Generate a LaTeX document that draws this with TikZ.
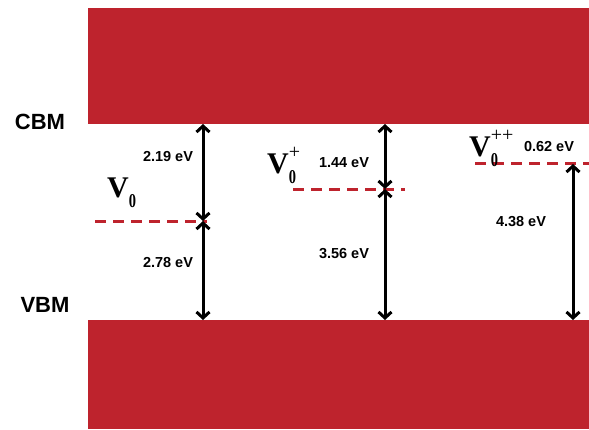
\documentclass[tikz,border=0pt]{standalone}
\usepackage{fontspec}
\setmainfont{Liberation Sans}
\newfontfamily\tnr{Liberation Serif}
\usetikzlibrary{arrows.meta}
\definecolor{bandred}{RGB}{190,35,45}
\newcommand{\defectlabel}[2]{{\tnr\bfseries\fontsize{30}{30}\selectfont V}%
  \rlap{\raisebox{-10pt}{\tnr\bfseries\fontsize{17}{17}\selectfont\scalebox{0.85}[1.15]{0}}}%
  \raisebox{15pt}{\tnr\fontsize{20}{20}\selectfont #2}}
\begin{document}
\begin{tikzpicture}[x=1pt,y=-1pt,
  band/.style={fill=bandred,draw=none,inner sep=0pt,anchor=north west},
  level/.style={draw=bandred,line width=3pt,dash pattern=on 11pt off 7pt},
  gap/.style={line width=3pt,{Straight Barb[length=6pt,width=13pt]}-{Straight Barb[length=6pt,width=13pt]}},
  val/.style={font=\bfseries\fontsize{14.5}{14.5}\selectfont,inner sep=0pt},
  edge/.style={font=\bfseries\fontsize{22}{22}\selectfont,inner sep=0pt}]
\useasboundingbox[fill=white] (0,0) rectangle (589,429);
\node[band,minimum width=501pt,minimum height=116pt] (cb) at (88,8) {};
\node[band,minimum width=501pt,minimum height=109pt] (vb) at (88,320) {};
\node[edge] (cbm) at (40,122) {CBM};
\node[edge] (vbm) at (45,305) {VBM};
% defect levels
\coordinate (l1a) at (95,221); \coordinate (l1b) at (207,221);
\coordinate (l2a) at (293,189); \coordinate (l2b) at (405,189);
\coordinate (l3a) at (475,163); \coordinate (l3b) at (589,163);
\draw[level] (l1a) -- (l1b);
\draw[level] (l2a) -- (l2b);
\draw[level] (l3a) -- (l3b);
% arrows
\coordinate (a1t) at (203,124); \coordinate (a1m) at (203,221); \coordinate (a1b) at (203,320);
\coordinate (a2t) at (385,124); \coordinate (a2m) at (385,189); \coordinate (a2b) at (385,320);
\coordinate (a3t) at (573,164); \coordinate (a3b) at (573,320);
\draw[gap] (a1t) -- (a1m);
\draw[gap] (a1m) -- (a1b);
\draw[gap] (a2t) -- (a2m);
\draw[gap] (a2m) -- (a2b);
\draw[gap] (a3t) -- (a3b);
% values
\node[val] (e1) at (168,157) {2.19 eV};
\node[val] (e2) at (168,263) {2.78 eV};
\node[val] (e3) at (344,163) {1.44 eV};
\node[val] (e4) at (344,254) {3.56 eV};
\node[val] (e5) at (521,222) {4.38 eV};
\node[val] (e6) at (549,147) {0.62 eV};
% defect labels
\node[anchor=base west,inner sep=0pt] (v0) at (107,197) {\defectlabel{30}{}};
\node[anchor=base west,inner sep=0pt] (v1) at (267,173) {\defectlabel{30}{+}};
\node[anchor=base west,inner sep=0pt] (v2) at (469,156) {\defectlabel{30}{++}};
\end{tikzpicture}
\end{document}
